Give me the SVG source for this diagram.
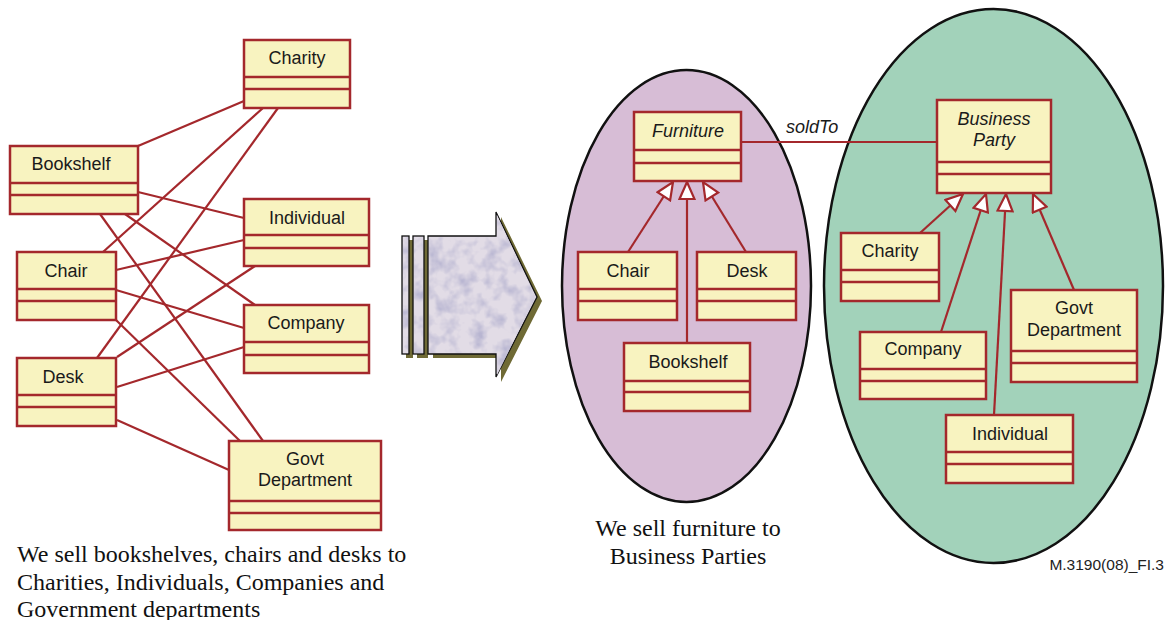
<svg xmlns="http://www.w3.org/2000/svg" width="1167" height="620" viewBox="0 0 1167 620">
<style>
.box{fill:#f8f3c0;stroke:#a4282c;stroke-width:2.5}
.div{stroke:#a4282c;stroke-width:2.5}
.lbl{font-family:"Liberation Sans",Arial,sans-serif;font-size:18px;fill:#1a1a1a;text-anchor:middle}
.it{font-style:italic}
.con{stroke:#a4282c;stroke-width:2.2;fill:none}
.gen{stroke:#a4282c;stroke-width:2.2;fill:none;marker-end:url(#tri)}
.cap{font-family:"Liberation Serif","Times New Roman",serif;font-size:24px;fill:#111}
</style>
<defs>
<marker id="tri" viewBox="0 0 20 18" refX="18.5" refY="9" markerWidth="20" markerHeight="18" orient="auto" markerUnits="userSpaceOnUse">
<path d="M1.5,1.5 L18.5,9 L1.5,16.5 Z" fill="#ffffff" stroke="#a4282c" stroke-width="2.2" stroke-linejoin="miter"/>
</marker>
<filter id="tex" x="0" y="0" width="1" height="1" color-interpolation-filters="sRGB">
<feTurbulence type="fractalNoise" baseFrequency="0.07" numOctaves="3" seed="4" result="n"/>
<feColorMatrix in="n" type="matrix" values="0 0 0 0 0.72  0 0 0 0 0.71  0 0 0 0 0.82  2.2 0 0 0 -0.9" result="c"/>
<feFlood flood-color="#e2dce6" result="bg"/>
<feMerge result="m"><feMergeNode in="bg"/><feMergeNode in="c"/></feMerge>
<feComposite in="m" in2="SourceGraphic" operator="in"/>
</filter>
</defs>

<!-- ellipses -->
<ellipse id="furniture-domain" cx="686.5" cy="286" rx="124.5" ry="216" fill="#d7bdd6" stroke="#111" stroke-width="2.5"/>
<ellipse id="party-domain" cx="993.5" cy="286" rx="169.5" ry="277" fill="#a2d2ba" stroke="#111" stroke-width="2.5"/>

<!-- transform arrow -->
<g id="big-arrow">
<g fill="#6f6a35">
<rect x="406" y="240" width="7" height="118"/>
<rect x="417" y="240" width="11" height="118"/>
<path d="M433,240 H501 V217 L542,301 L501,382 V358 H433 Z"/>
</g>
<g stroke="#111" stroke-width="1.3">
<rect x="402" y="236" width="7" height="118" fill="#ddd6e2"/>
<rect x="413" y="236" width="11" height="118" fill="#ddd6e2"/>
<path d="M428,236 H496 V212 L537,297 L496,377 V354 H428 Z" fill="#ddd6e2"/>
</g>
<g filter="url(#tex)">
<rect x="403" y="237" width="5" height="116" fill="#000"/>
<rect x="414" y="237" width="9" height="116" fill="#000"/>
<path d="M429,237 H497 V215 L535.5,297 L497,375 V353 H429 Z" fill="#000"/>
</g>
</g>

<!-- connectors -->
<g id="connectors">
<line class="con" x1="138" y1="146" x2="244" y2="101"/>
<line class="con" x1="263" y1="108" x2="103" y2="252"/>
<line class="con" x1="278" y1="108" x2="97" y2="358"/>
<line class="con" x1="138" y1="192" x2="244" y2="218"/>
<line class="con" x1="116" y1="270" x2="244" y2="240"/>
<line class="con" x1="117" y1="357" x2="255" y2="266"/>
<line class="con" x1="125" y1="214" x2="255" y2="305"/>
<line class="con" x1="116" y1="290" x2="244" y2="328"/>
<line class="con" x1="117" y1="387" x2="244" y2="347"/>
<line class="con" x1="100" y1="214" x2="263" y2="441"/>
<line class="con" x1="116" y1="320" x2="240" y2="441"/>
<line class="con" x1="117" y1="420" x2="229" y2="470"/>

<line class="con" x1="741" y1="142" x2="937" y2="142"/>
<text x="786" y="133" style="font-family:'Liberation Sans',Arial,sans-serif;font-size:18px;font-style:italic;fill:#1a1a1a">soldTo</text>

<line class="gen" x1="628" y1="252" x2="673" y2="182"/>
<line class="gen" x1="687" y1="343" x2="687" y2="182"/>
<line class="gen" x1="746" y1="252" x2="703" y2="182"/>

<line class="gen" x1="920" y1="233" x2="963" y2="194"/>
<line class="gen" x1="941" y1="332" x2="986" y2="194"/>
<line class="gen" x1="994" y1="415" x2="1006" y2="194"/>
<line class="gen" x1="1074" y1="290" x2="1033" y2="194"/>
</g>

<!-- left boxes -->
<g id="l-charity"><rect class="box" x="244" y="40" width="106" height="68"/><line class="div" x1="244" y1="77" x2="350" y2="77"/><line class="div" x1="244" y1="89" x2="350" y2="89"/><text class="lbl" x="297" y="64">Charity</text></g>
<g id="l-bookshelf"><rect class="box" x="10" y="146" width="128" height="68"/><line class="div" x1="10" y1="183" x2="138" y2="183"/><line class="div" x1="10" y1="195" x2="138" y2="195"/><text class="lbl" x="71" y="170">Bookshelf</text></g>
<g id="l-individual"><rect class="box" x="244" y="199" width="125" height="67"/><line class="div" x1="244" y1="235" x2="369" y2="235"/><line class="div" x1="244" y1="248" x2="369" y2="248"/><text class="lbl" x="307" y="224">Individual</text></g>
<g id="l-chair"><rect class="box" x="17" y="252" width="99" height="68"/><line class="div" x1="17" y1="289" x2="116" y2="289"/><line class="div" x1="17" y1="301" x2="116" y2="301"/><text class="lbl" x="66" y="277">Chair</text></g>
<g id="l-company"><rect class="box" x="244" y="305" width="125" height="68"/><line class="div" x1="244" y1="342" x2="369" y2="342"/><line class="div" x1="244" y1="355" x2="369" y2="355"/><text class="lbl" x="306" y="329">Company</text></g>
<g id="l-desk"><rect class="box" x="17" y="358" width="99" height="68"/><line class="div" x1="17" y1="395" x2="116" y2="395"/><line class="div" x1="17" y1="407" x2="116" y2="407"/><text class="lbl" x="63" y="383">Desk</text></g>
<g id="l-govt"><rect class="box" x="229" y="441" width="152" height="89"/><line class="div" x1="229" y1="501" x2="381" y2="501"/><line class="div" x1="229" y1="513" x2="381" y2="513"/><text class="lbl" x="305" y="465">Govt</text><text class="lbl" x="305" y="486">Department</text></g>

<!-- middle boxes -->
<g id="m-furniture"><rect class="box" x="634" y="112" width="107" height="69"/><line class="div" x1="634" y1="150" x2="741" y2="150"/><line class="div" x1="634" y1="163" x2="741" y2="163"/><text class="lbl it" x="688" y="137">Furniture</text></g>
<g id="m-chair"><rect class="box" x="578" y="252" width="99" height="68"/><line class="div" x1="578" y1="289" x2="677" y2="289"/><line class="div" x1="578" y1="301" x2="677" y2="301"/><text class="lbl" x="628" y="277">Chair</text></g>
<g id="m-desk"><rect class="box" x="697" y="252" width="99" height="68"/><line class="div" x1="697" y1="289" x2="796" y2="289"/><line class="div" x1="697" y1="301" x2="796" y2="301"/><text class="lbl" x="747" y="277">Desk</text></g>
<g id="m-bookshelf"><rect class="box" x="624" y="343" width="126" height="68"/><line class="div" x1="624" y1="381" x2="750" y2="381"/><line class="div" x1="624" y1="392" x2="750" y2="392"/><text class="lbl" x="688" y="368">Bookshelf</text></g>

<!-- right boxes -->
<g id="r-business-party"><rect class="box" x="937" y="100" width="114" height="93"/><line class="div" x1="937" y1="162" x2="1051" y2="162"/><line class="div" x1="937" y1="174" x2="1051" y2="174"/><text class="lbl it" x="994" y="125">Business</text><text class="lbl it" x="994" y="146">Party</text></g>
<g id="r-charity"><rect class="box" x="841" y="233" width="98" height="68"/><line class="div" x1="841" y1="270" x2="939" y2="270"/><line class="div" x1="841" y1="282" x2="939" y2="282"/><text class="lbl" x="890" y="257">Charity</text></g>
<g id="r-company"><rect class="box" x="860" y="332" width="126" height="67"/><line class="div" x1="860" y1="369" x2="986" y2="369"/><line class="div" x1="860" y1="381" x2="986" y2="381"/><text class="lbl" x="923" y="355">Company</text></g>
<g id="r-govt"><rect class="box" x="1011" y="290" width="126" height="92"/><line class="div" x1="1011" y1="351" x2="1137" y2="351"/><line class="div" x1="1011" y1="363" x2="1137" y2="363"/><text class="lbl" x="1074" y="314">Govt</text><text class="lbl" x="1074" y="336">Department</text></g>
<g id="r-individual"><rect class="box" x="946" y="415" width="127" height="68"/><line class="div" x1="946" y1="452" x2="1073" y2="452"/><line class="div" x1="946" y1="464" x2="1073" y2="464"/><text class="lbl" x="1010" y="440">Individual</text></g>

<!-- captions -->
<g id="captions">
<text class="cap" x="17" y="562">We sell bookshelves, chairs and desks to</text>
<text class="cap" x="17" y="590">Charities, Individuals, Companies and</text>
<text class="cap" x="17" y="617">Government departments</text>
<text class="cap" x="688" y="536" text-anchor="middle">We sell furniture to</text>
<text class="cap" x="688" y="564" text-anchor="middle">Business Parties</text>
<text x="1164" y="570" text-anchor="end" style="font-family:'Liberation Sans',Arial,sans-serif;font-size:15.5px;fill:#222">M.3190(08)_FI.3</text>
</g>
</svg>
